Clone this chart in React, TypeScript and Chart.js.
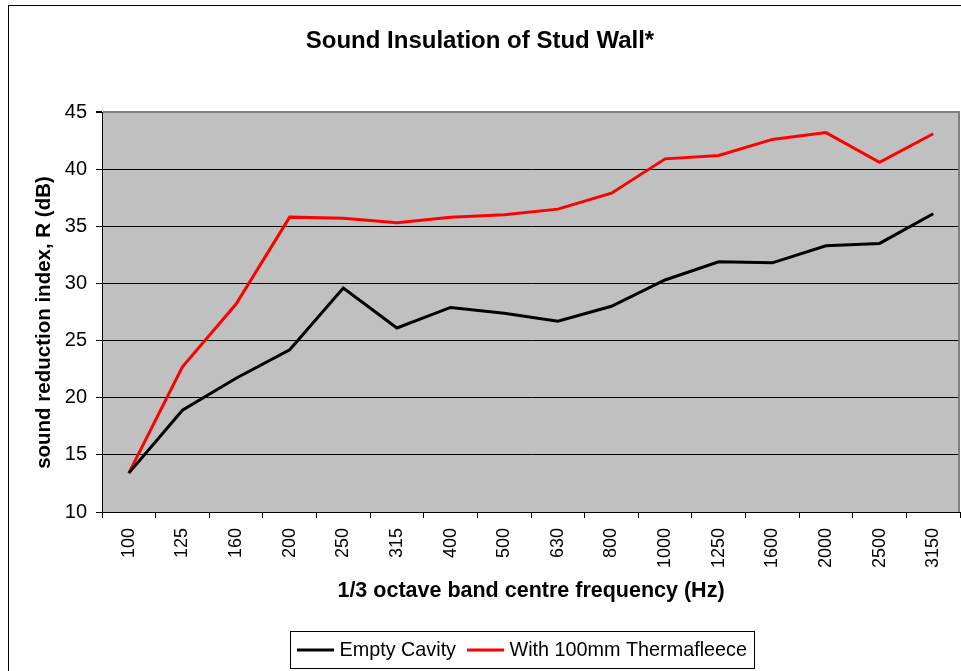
import React, { useEffect, useRef } from "react";
import { Chart, registerables } from "chart.js";

Chart.register(...registerables);

const frequencies = ["100", "125", "160", "200", "250", "315", "400", "500", "630", "800", "1000", "1250", "1600", "2000", "2500", "3150"];
const emptyCavity = [13.4, 18.9, 21.7, 24.2, 29.6, 26.1, 27.9, 27.4, 26.7, 28.0, 30.3, 31.9, 31.8, 33.3, 33.5, 36.1];
const thermafleece = [13.4, 22.7, 28.2, 35.8, 35.7, 35.3, 35.8, 36.0, 36.5, 37.9, 40.9, 41.2, 42.6, 43.2, 40.6, 43.1];
const seriesLabels = ["Empty Cavity", "With 100mm Thermafleece"];
const yMin = 10;
const yMax = 45;
const yStep = 5;

const chartTitle = "Sound Insulation of Stud Wall*";
const xTitle = "1/3 octave band centre frequency (Hz)";
const yTitle = "sound reduction index, R (dB)";

const FONT = "'Liberation Sans', Arial, Helvetica, sans-serif";

const decorPlugin = {
  id: "decor",
  beforeDraw(chart: any) {
    const { ctx, chartArea: a } = chart;
    ctx.save();
    ctx.fillStyle = "#C0C0C0";
    ctx.fillRect(a.left, a.top, a.right - a.left, a.bottom - a.top);
    ctx.restore();
  },
  beforeDatasetsDraw(chart: any) {
    const { ctx, chartArea: a } = chart;
    ctx.save();
    ctx.strokeStyle = "#808080";
    ctx.lineWidth = 2;
    ctx.beginPath();
    ctx.moveTo(a.right - 1, a.top);
    ctx.lineTo(a.right - 1, a.bottom);
    ctx.stroke();
    ctx.restore();
  },
  afterDraw(chart: any) {
    const { ctx } = chart;
    ctx.save();
    // outer frame
    ctx.strokeStyle = "#000";
    ctx.lineWidth = 1;
    ctx.strokeRect(8.5, 5.5, 1200, 1000);

    // y-axis title
    ctx.fillStyle = "#000";
    ctx.font = `bold 20.5px ${FONT}`;
    ctx.textAlign = "center";
    ctx.textBaseline = "middle";
    ctx.translate(44, 322.5);
    ctx.rotate(-Math.PI / 2);
    ctx.fillText(yTitle, 0, 0);
    ctx.setTransform(1, 0, 0, 1, 0, 0);

    // legend
    const ds = chart.data.datasets;
    ctx.font = `19.8px ${FONT}`;
    ctx.textAlign = "left";
    const boxLeft = 290.5;
    const boxTop = 631.5;
    const boxH = 37;
    const cy = boxTop + boxH / 2;
    let x = boxLeft + 6.5;
    ds.forEach((d: any, i: number) => {
      if (i > 0) x += 11;
      ctx.strokeStyle = d.borderColor;
      ctx.lineWidth = 3;
      ctx.beginPath();
      ctx.moveTo(x, cy);
      ctx.lineTo(x + 37, cy);
      ctx.stroke();
      x += 37 + 5.5;
      ctx.fillStyle = "#000";
      ctx.fillText(d.label, x, cy + 0.5);
      x += ctx.measureText(d.label).width;
    });
    const boxRight = x + 8;
    ctx.strokeStyle = "#000";
    ctx.lineWidth = 1;
    ctx.strokeRect(boxLeft, boxTop, Math.round(boxRight - boxLeft), boxH);
    ctx.restore();
  },
};

export default function App() {
  const ref = useRef<HTMLCanvasElement>(null);
  useEffect(() => {
    if (!ref.current) return;
    const chart = new Chart(ref.current, {
      type: "line",
      data: {
        labels: frequencies,
        datasets: [
          {
            label: seriesLabels[0],
            data: emptyCavity,
            borderColor: "#000000",
            backgroundColor: "#000000",
            borderWidth: 3,
            pointRadius: 0,
            tension: 0,
            fill: false,
          },
          {
            label: seriesLabels[1],
            data: thermafleece,
            borderColor: "#FF0000",
            backgroundColor: "#FF0000",
            borderWidth: 3,
            pointRadius: 0,
            tension: 0,
            fill: false,
          },
        ],
      },
      options: {
        responsive: false,
        maintainAspectRatio: false,
        animation: false,
        devicePixelRatio: 1,
        layout: { padding: { left: 0, right: 1, top: 0, bottom: 59 } },
        plugins: {
          legend: { display: false },
          tooltip: { enabled: false },
          title: {
            display: true,
            text: chartTitle,
            color: "#000",
            font: { family: FONT, size: 24, weight: "bold" },
            padding: { top: 27, bottom: 56.2 },
          },
        },
        scales: {
          x: {
            type: "category",
            offset: true,
            afterFit: (scale: any) => {
              scale.height = 100;
              scale.paddingLeft = 0;
              scale.paddingRight = 0;
            },
            grid: {
              offset: true,
              drawOnChartArea: false,
              drawTicks: true,
              tickLength: 6,
              color: "#000",
              tickColor: "#000",
            },
            border: { display: true, color: "#000", width: 1 },
            ticks: {
              color: "#000",
              font: { family: FONT, size: 18 },
              minRotation: 90,
              maxRotation: 90,
              padding: 10,
              autoSkip: false,
            },
            title: {
              display: true,
              text: xTitle,
              color: "#000",
              font: { family: FONT, size: 21.5, weight: "bold" },
              padding: { top: 0, bottom: 8 },
            },
          },
          y: {
            min: yMin,
            max: yMax,
            afterFit: (scale: any) => {
              scale.width = 102;
            },
            grid: {
              color: (c: any) => (c.tick && c.tick.value === yMax ? "#808080" : "#000"),
              lineWidth: (c: any) => (c.tick && c.tick.value === yMax ? 2 : 1),
              tickColor: "#000",
              tickLength: 6,
              drawTicks: true,
            },
            border: { display: true, color: "#000", width: 1 },
            ticks: {
              stepSize: yStep,
              color: "#000",
              font: { family: FONT, size: 20 },
              padding: 9,
            },
            title: { display: false },
          },
        },
      },
      plugins: [decorPlugin],
    } as any);
    return () => chart.destroy();
  }, []);
  return (
    <div
      style={{
        position: "fixed",
        left: 0,
        top: 0,
        width: 961,
        height: 671,
        overflow: "hidden",
        background: "#fff",
      }}
    >
      <canvas ref={ref} width={961} height={671} style={{ display: "block", width: 961, height: 671 }} />
    </div>
  );
}
